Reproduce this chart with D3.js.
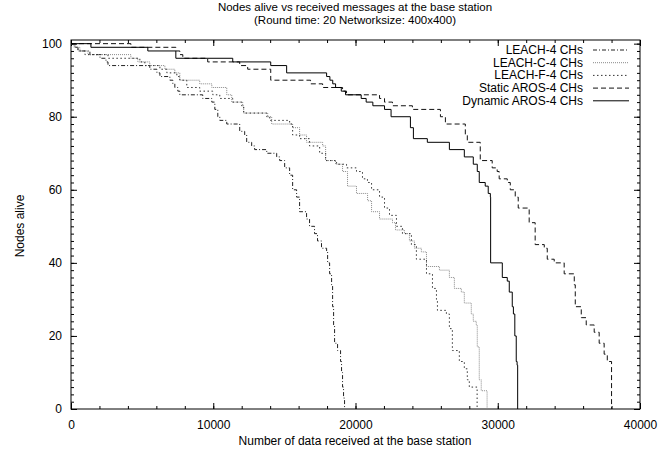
<!DOCTYPE html>
<html>
<head>
<meta charset="utf-8">
<script src="https://cdn.jsdelivr.net/npm/d3@7"></script>
<style>
  html, body { margin: 0; padding: 0; background: #fff; }
  svg { display: block; font-family: "Liberation Sans", Arial, Helvetica, sans-serif; }
</style>
</head>
<body>
<div id="chart"></div>
<script>
// Nodes alive vs received messages (gnuplot-like step curves)

const seriesNames = ["LEACH-4 CHs", "LEACH-C-4 CHs", "LEACH-F-4 CHs", "Static AROS-4 CHs", "Dynamic AROS-4 CHs"];

const xTicks = [0, 10000, 20000, 30000, 40000];
const yTicks = [0, 20, 40, 60, 80, 100];

// [data received, nodes alive]
const leach4 = [[0,100],[280,99],[490,98],[1330,97],[2040,96],[2460,95],[2600,94],[5540,93],[6040,92],[6250,91],[6950,90],[7160,89],[7300,88],[7510,87],[7650,86],[9260,85],[9900,84],[10110,82],[10320,80],[10460,79],[10950,78],[11860,76],[12210,75],[12350,73],[12700,72],[12910,71],[13760,70],[14460,69],[14670,68],[15020,66],[15370,64],[15580,60],[15860,58],[16070,54],[16560,52],[16770,50],[17120,48],[17330,46],[17610,44],[17970,43],[18040,40],[18180,37],[18320,34],[18390,28],[18460,23],[18530,18],[18740,16],[18950,13],[19020,10],[19090,6],[19160,3],[19230,0]];

const leachC = [[0,100],[210,99],[630,98],[1190,97],[4210,96],[4700,95],[5540,94],[6600,93],[7300,92],[7650,90],[9050,89],[9900,88],[10950,86],[11300,84],[12070,83],[12140,81],[13830,80],[14110,78],[15580,77],[16070,75],[16560,73],[17690,72],[17900,68],[18600,67],[19090,65],[19440,61],[20070,59],[20850,57],[21130,54],[21690,52],[22600,51],[22810,49],[23440,48],[23790,46],[24140,44],[24630,43],[24990,39],[25900,38],[26600,36],[26950,33],[27440,32],[27650,29],[28140,26],[28280,24],[28490,23],[28560,17],[28700,8],[28840,5],[29250,0]];

const leachF = [[0,100],[280,99],[490,98],[980,97],[2600,96],[4840,95],[5190,94],[6250,93],[6740,92],[7440,91],[7650,90],[8140,88],[9050,87],[9970,86],[10460,85],[11370,84],[12000,83],[12140,81],[13760,80],[13970,79],[15370,78],[15580,75],[16070,74],[16770,72],[17480,70],[17900,68],[18670,67],[19370,66],[20070,65],[20490,63],[20840,62],[21130,60],[21690,58],[22040,55],[22390,53],[22880,50],[23300,48],[23930,45],[24280,41],[24990,37],[25410,33],[25690,30],[25760,27],[26390,26],[26600,22],[26810,16],[27300,13],[27650,11],[27860,8],[28000,6],[28550,0]];

const staticAros = [[0,100],[4210,99],[7370,98],[7650,97],[7860,96],[9610,95],[11860,94],[12420,93],[14040,90],[16840,89],[17690,88],[19090,87],[19370,86],[21690,85],[22040,84],[22600,83],[24000,82],[25970,80],[26320,78],[27720,75],[27860,73],[28770,68],[29610,66],[29960,65],[30100,63],[30670,62],[30880,60],[31230,58],[31440,55],[32210,51],[32630,45],[33270,44],[33480,41],[33970,40],[34670,37],[35380,34],[35450,28],[35870,25],[36220,23],[36780,21],[37130,18],[37480,15],[37700,13],[38000,0]];

const dynamicAros = [[0,100],[1400,99],[5400,98],[7370,96],[11370,95],[14040,94],[15160,92],[17970,91],[18200,90],[18400,89],[18600,88],[19000,87],[19300,86],[20400,85],[20750,84],[21220,83],[22040,82],[22500,80],[23860,77],[24070,74],[25050,73],[26600,71],[27650,69],[28280,67],[28560,65],[28700,62],[29120,61],[29330,59],[29480,58],[29500,40],[30320,36],[30670,35],[30810,32],[31020,28],[31100,26],[31200,20],[31300,13],[31360,12],[31400,0]];

const allSeries = [leach4, leachC, leachF, staticAros, dynamicAros];

const styles = [
  { stroke: "#222", dash: "4,2,1,2" },
  { stroke: "#888", dash: "1,1" },
  { stroke: "#333", dash: "1.5,2.5" },
  { stroke: "#111", dash: "5,3" },
  { stroke: "#000", dash: null }
];

const width = 663, height = 454;
const margin = { top: 40, right: 23, bottom: 45, left: 71 };
const innerW = width - margin.left - margin.right;
const innerH = height - margin.top - margin.bottom;
const fs = "12px";

const svg = d3.select("#chart").append("svg")
  .attr("width", width)
  .attr("height", height);

svg.append("rect").attr("width", width).attr("height", height).attr("fill", "#fff");

const g = svg.append("g").attr("transform", `translate(${margin.left},${margin.top})`);

const x = d3.scaleLinear().domain([0, 40000]).range([0, innerW]);
const y = d3.scaleLinear().domain([0, 101]).range([innerH, 0]);

const xMinor = d3.range(0, 40001, 2000);
const yMinor = d3.range(0, 101, 2);

// --- Axes (ticks inward, mirrored) ---
function styleAxis(sel) {
  sel.select(".domain").remove();
  sel.selectAll("line").attr("stroke", "#000");
  sel.selectAll("text").attr("fill", "#000").style("font-size", fs);
}

g.append("g").attr("transform", `translate(0,${innerH})`)
  .call(d3.axisBottom(x).tickValues(xMinor).tickSize(-3).tickFormat(""))
  .call(styleAxis);
g.append("g").attr("transform", `translate(0,${innerH})`)
  .call(d3.axisBottom(x).tickValues(xTicks).tickSize(-6).tickPadding(11).tickFormat(d3.format("d")))
  .call(styleAxis);
g.append("g")
  .call(d3.axisTop(x).tickValues(xMinor).tickSize(-3).tickFormat(""))
  .call(styleAxis);
g.append("g")
  .call(d3.axisTop(x).tickValues(xTicks).tickSize(-6).tickFormat(""))
  .call(styleAxis);

g.append("g")
  .call(d3.axisLeft(y).tickValues(yMinor).tickSize(-3).tickFormat(""))
  .call(styleAxis);
g.append("g")
  .call(d3.axisLeft(y).tickValues(yTicks).tickSize(-6).tickPadding(9).tickFormat(d3.format("d")))
  .call(styleAxis);
g.append("g").attr("transform", `translate(${innerW},0)`)
  .call(d3.axisRight(y).tickValues(yMinor).tickSize(-3).tickFormat(""))
  .call(styleAxis);
g.append("g").attr("transform", `translate(${innerW},0)`)
  .call(d3.axisRight(y).tickValues(yTicks).tickSize(-6).tickFormat(""))
  .call(styleAxis);

// border
g.append("rect")
  .attr("width", innerW).attr("height", innerH)
  .attr("fill", "none").attr("stroke", "#000").attr("stroke-width", 1);

// --- Lines ---
const line = d3.line()
  .x(d => x(d[0]))
  .y(d => y(d[1]))
  .curve(d3.curveStepAfter);

allSeries.forEach((data, i) => {
  g.append("path")
    .datum(data)
    .attr("fill", "none")
    .attr("stroke", styles[i].stroke)
    .attr("stroke-width", 1)
    .attr("stroke-dasharray", styles[i].dash)
    .attr("d", line);
});

// --- Legend ---
const legend = svg.append("g").attr("transform", "translate(583,50)");
seriesNames.forEach((name, i) => {
  const row = legend.append("g").attr("transform", `translate(0,${i * 12.7})`);
  row.append("text")
    .attr("x", 0).attr("y", 4)
    .attr("text-anchor", "end")
    .style("font-size", fs)
    .text(name);
  row.append("line")
    .attr("x1", 10).attr("x2", 46)
    .attr("stroke", styles[i].stroke)
    .attr("stroke-dasharray", styles[i].dash);
});

// --- Titles ---
svg.append("text")
  .attr("x", 355).attr("y", 11)
  .attr("text-anchor", "middle")
  .style("font-size", "11.5px")
  .text("Nodes alive vs received messages at the base station");
svg.append("text")
  .attr("x", 355).attr("y", 24)
  .attr("text-anchor", "middle")
  .style("font-size", "11.5px")
  .text("(Round time: 20 Networksize: 400x400)");

svg.append("text")
  .attr("x", 355).attr("y", 445)
  .attr("text-anchor", "middle")
  .style("font-size", fs)
  .text("Number of data received at the base station");

svg.append("text")
  .attr("transform", "rotate(-90)")
  .attr("x", -226).attr("y", 24)
  .attr("text-anchor", "middle")
  .style("font-size", fs)
  .text("Nodes alive");
</script>
</body>
</html>
